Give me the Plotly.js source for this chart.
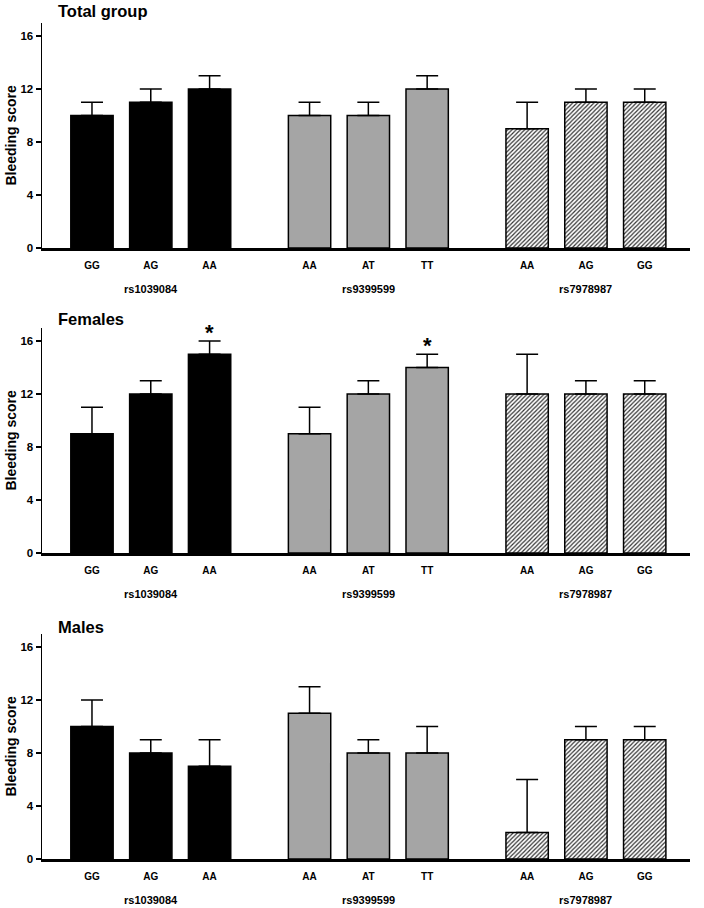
<!DOCTYPE html>
<html>
<head>
<meta charset="utf-8">
<script src="https://cdn.plot.ly/plotly-3.0.1.min.js"></script>
<style>html,body{margin:0;padding:0;background:#fff;}#chart{width:704px;height:908px;}</style>
</head>
<body>
<div id="chart"></div>
<script>
// ---- data ----
const panelTitles = ["Total group", "Females", "Males"];
const snps = ["rs1039084", "rs9399599", "rs7978987"];
const genotypes = [["GG", "AG", "AA"], ["AA", "AT", "TT"], ["AA", "AG", "GG"]];
const slots = [[0, 1, 2], [3.7, 4.7, 5.7], [7.4, 8.4, 9.4]];

const totalMeans = [[10, 11, 12], [10, 10, 12], [9, 11, 11]];
const totalErr   = [[1, 1, 1], [1, 1, 1], [2, 1, 1]];
const femaleMeans = [[9, 12, 15], [9, 12, 14], [12, 12, 12]];
const femaleErr   = [[2, 1, 1], [2, 1, 1], [3, 1, 1]];
const maleMeans = [[10, 8, 7], [11, 8, 8], [2, 9, 9]];
const maleErr   = [[2, 1, 2], [2, 1, 2], [4, 1, 1]];
const femaleSig = [[false, false, true], [false, false, true], [false, false, false]];
const totalSig = [[false, false, false], [false, false, false], [false, false, false]];
const maleSig = [[false, false, false], [false, false, false], [false, false, false]];

const yTicks = [0, 4, 8, 12, 16];

// ---- layout helpers ----
const W = 704, H = 908;
const FONT = "Liberation Sans, Arial, sans-serif";
const panels = [
  {means: totalMeans, err: totalErr, sig: totalSig, bottom: 248, title: 22},
  {means: femaleMeans, err: femaleErr, sig: femaleSig, bottom: 553, title: 330},
  {means: maleMeans, err: maleErr, sig: maleSig, bottom: 859, title: 638}
];
const pxPerUnit = 13.25;
const yMax = 17;

const groupStyles = [
  {color: "#000000"},
  {color: "#a5a5a5"},
  {color: "#ffffff", pattern: {shape: "/", fgcolor: "#333333", bgcolor: "#ffffff", size: 3, solidity: 0.4}}
];

const traces = [];
const layout = {
  width: W, height: H,
  margin: {l: 0, r: 0, t: 0, b: 0, pad: 0},
  paper_bgcolor: "#ffffff", plot_bgcolor: "#ffffff",
  showlegend: false,
  bargap: 0,
  font: {family: FONT, color: "#000"},
  annotations: []
};

const allTickVals = [].concat(...slots);
const allTickText = [].concat(...genotypes);

panels.forEach((p, pi) => {
  const sfx = pi === 0 ? "" : String(pi + 1);
  const xa = "x" + sfx, ya = "y" + sfx;
  const top = p.bottom - yMax * pxPerUnit;
  const dom = [1 - p.bottom / H, 1 - top / H];

  for (let g = 0; g < 3; g++) {
    const st = groupStyles[g];
    const marker = {color: st.color, line: {color: "#000", width: 1.5}};
    if (st.pattern) marker.pattern = st.pattern;
    traces.push({
      type: "bar",
      x: slots[g],
      y: p.means[g],
      width: 0.72,
      xaxis: xa, yaxis: ya,
      marker: marker,
      error_y: {type: "data", array: p.err[g], arrayminus: p.err[g].map(() => 0), symmetric: false,
                color: "#000", thickness: 1.5, width: 11},
      hoverinfo: "skip"
    });
    // significance asterisks
    for (let i = 0; i < 3; i++) {
      if (p.sig[g][i]) {
        layout.annotations.push({
          xref: xa, yref: ya, x: slots[g][i], y: p.means[g][i] + p.err[g][i],
          text: "*", showarrow: false, yanchor: "bottom", yshift: -6,
          font: {family: FONT, size: 22, color: "#000", weight: "bold"}
        });
      }
    }
    // SNP group label
    layout.annotations.push({
      xref: xa, yref: "paper", x: slots[g][1], y: 1 - (p.bottom + 41) / H,
      text: "<b>" + snps[g] + "</b>", showarrow: false, yanchor: "middle", xanchor: "center",
      font: {family: FONT, size: 11, color: "#000"}
    });
  }

  // panel title
  layout.annotations.push({
    xref: "paper", yref: "paper", x: 56 / W, y: 1 - p.title / H,
    text: "<b>" + panelTitles[pi] + "</b>", showarrow: false, xanchor: "left", yanchor: "bottom",
    font: {family: FONT, size: 16.5, color: "#000"}
  });

  layout["xaxis" + sfx] = {
    domain: [42 / W, 690 / W],
    anchor: ya,
    range: [-0.85, 10.17],
    tickmode: "array",
    tickvals: allTickVals,
    ticktext: allTickText.map(t => "<b>" + t + "</b>"),
    ticks: "",
    ticklabelstandoff: 6,
    tickfont: {family: FONT, size: 10, color: "#000"},
    showline: true, linecolor: "#000", linewidth: 2.5,
    showgrid: false, zeroline: false, fixedrange: true,
    automargin: false
  };
  layout["yaxis" + sfx] = {
    domain: dom,
    anchor: xa,
    range: [0, yMax],
    tickmode: "array",
    tickvals: yTicks,
    ticktext: yTicks.map(v => "<b>" + v + "</b>"),
    ticks: "outside", ticklen: 5, tickwidth: 1.5, tickcolor: "#000",
    tickfont: {family: FONT, size: 11.5, color: "#000"},
    showline: true, linecolor: "#000", linewidth: 1.5,
    showgrid: false, zeroline: false, fixedrange: true,
    automargin: false,
    title: {text: "<b>Bleeding score</b>", font: {family: FONT, size: 14, color: "#000"}, standoff: 0}
  };
});

Plotly.newPlot("chart", traces, layout, {displayModeBar: false, staticPlot: true});
</script>
</body>
</html>
